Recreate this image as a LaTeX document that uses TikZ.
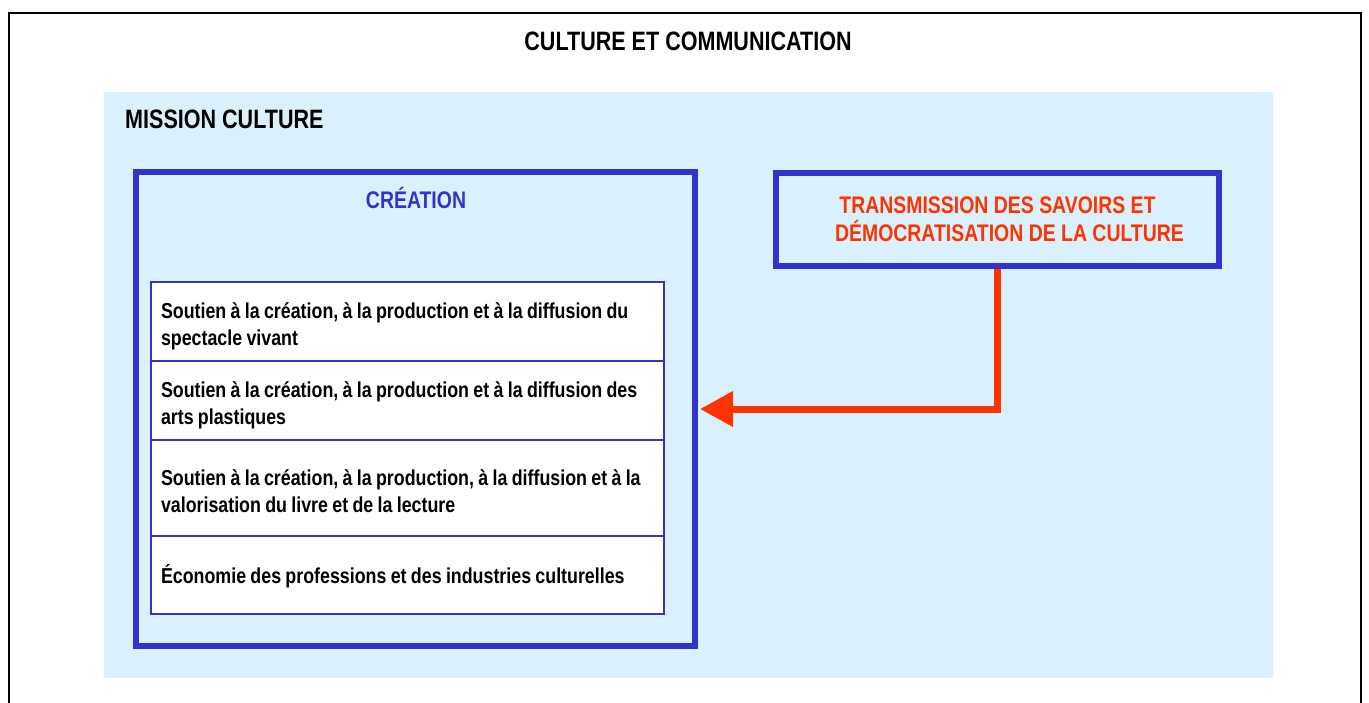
\documentclass[tikz,border=0pt]{standalone}
\usepackage{fontspec}
\setmainfont{Liberation Sans}[FakeStretch=0.81]
\newfontfamily\bodyfont{Liberation Sans}[FakeStretch=0.825]
\usetikzlibrary{arrows.meta}
\definecolor{bgblue}{HTML}{DAF0FC}
\definecolor{boxblue}{HTML}{3333CC}
\definecolor{redtxt}{HTML}{FF3300}
\newcommand{\rowtext}[2]{\raisebox{-#1}[\height][\depth]{\parbox{493pt}{\raggedright\spaceskip=0.2em plus 0.05em\relax #2}}}
\begin{document}
\begin{tikzpicture}[x=1pt,y=-1pt,
  heading/.style={font=\bfseries\fontsize{26.6}{30}\selectfont, inner sep=0pt},
  subhead/.style={font=\bfseries\fontsize{24}{28}\selectfont},
  frame/.style={draw=boxblue, line width=6pt, inner sep=0pt},
  rowbox/.style={draw=boxblue, line width=1.5pt, fill=white, minimum width=513pt,
    inner xsep=10pt, inner ysep=0pt,
    font=\bodyfont\bfseries\fontsize{21.6}{27}\selectfont},
  link/.style={draw=redtxt, line width=7pt, -{Triangle[length=33pt,width=34pt]}}
]
\useasboundingbox (0,0) rectangle (1369,702);
\clip (0,0) rectangle (1369,702);
\fill[white] (0,0) rectangle (1369,702);
\draw[line width=2pt] (9,13) rectangle (1361,730);
\node[heading, anchor=base] (title) at (688,50) {CULTURE ET COMMUNICATION};
\node[fill=bgblue, minimum width=1169pt, minimum height=586pt, inner sep=0pt] (mission) at (688.5,385) {};
\node[heading, anchor=base west] (missionlabel) at (125,128) {MISSION CULTURE};
\node[frame, minimum width=559pt, minimum height=474pt] (creation) at (415.5,409) {};
\node[subhead, text=boxblue, anchor=base, inner sep=0pt] (creationlabel) at (416,208) {CRÉATION};
\node[rowbox, minimum height=79pt] (r1) at (407.5,321.5) {\rowtext{5pt}{Soutien à la création, à la production et à la diffusion du\\spectacle vivant}};
\node[rowbox, minimum height=79pt] (r2) at (407.5,400.5) {\rowtext{5pt}{Soutien à la création, à la production et à la diffusion des\\arts plastiques}};
\node[rowbox, minimum height=96pt] (r3) at (407.5,488) {\rowtext{3pt}{Soutien à la création, à la production, à la diffusion et à la\\valorisation du livre et de la lecture}};
\node[rowbox, minimum height=78pt] (r4) at (407.5,575) {\rowtext{1pt}{Économie des professions et des industries culturelles}};
\node[frame, subhead, text=redtxt, align=center, minimum width=443pt, minimum height=93pt] (trans) at (997.5,219) {TRANSMISSION DES SAVOIRS ET\\\hspace*{24pt}DÉMOCRATISATION DE LA CULTURE};
\draw[link, shorten >=2pt] (trans.south) |- (creation.east);
\end{tikzpicture}
\end{document}
